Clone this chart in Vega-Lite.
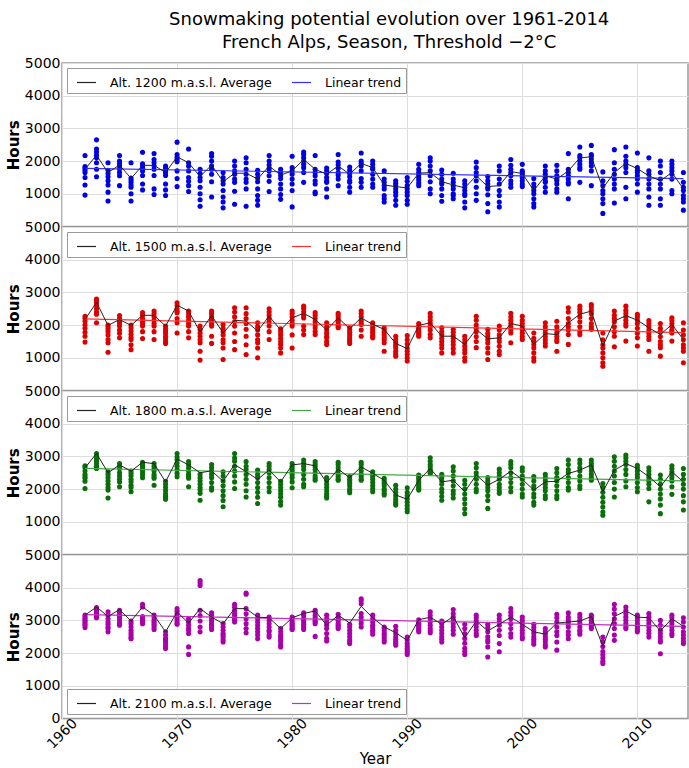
{
"$schema":"https://vega.github.io/schema/vega-lite/v6.json",
"autosize":{"type":"pad"},
"padding":{"left":5,"top":11,"right":0,"bottom":0},
"background":"white",
"title":{"text":["Snowmaking potential evolution over 1961-2014","French Alps, Season, Threshold −2°C"],"fontSize":18,"fontWeight":"normal","font":"DejaVu Sans","lineHeight":23,"offset":3,"anchor":"middle","dx":42,"color":"#000000"},
"datasets":{
"m1200":[{"yr":1962,"h":1750},{"yr":1963,"h":2180},{"yr":1964,"h":1650},{"yr":1965,"h":1880},{"yr":1966,"h":1470},{"yr":1967,"h":1870},{"yr":1968,"h":1870},{"yr":1969,"h":1650},{"yr":1970,"h":2130},{"yr":1971,"h":1950},{"yr":1972,"h":1530},{"yr":1973,"h":1880},{"yr":1974,"h":1370},{"yr":1975,"h":1630},{"yr":1976,"h":1630},{"yr":1977,"h":1450},{"yr":1978,"h":1850},{"yr":1979,"h":1570},{"yr":1980,"h":1700},{"yr":1981,"h":2050},{"yr":1982,"h":1750},{"yr":1983,"h":1600},{"yr":1984,"h":1850},{"yr":1985,"h":1600},{"yr":1986,"h":1930},{"yr":1987,"h":1800},{"yr":1988,"h":1270},{"yr":1989,"h":1220},{"yr":1990,"h":1180},{"yr":1991,"h":1630},{"yr":1992,"h":1650},{"yr":1993,"h":1370},{"yr":1994,"h":1270},{"yr":1995,"h":1180},{"yr":1996,"h":1550},{"yr":1997,"h":1220},{"yr":1998,"h":1250},{"yr":1999,"h":1680},{"yr":2000,"h":1620},{"yr":2001,"h":1100},{"yr":2002,"h":1550},{"yr":2003,"h":1450},{"yr":2004,"h":1700},{"yr":2005,"h":2100},{"yr":2006,"h":2130},{"yr":2007,"h":1170},{"yr":2008,"h":1650},{"yr":2009,"h":1930},{"yr":2010,"h":1770},{"yr":2011,"h":1550},{"yr":2012,"h":1400},{"yr":2013,"h":1650},{"yr":2014,"h":1150}],
"m1500":[{"yr":1962,"h":2170},{"yr":1963,"h":2700},{"yr":1964,"h":1990},{"yr":1965,"h":2170},{"yr":1966,"h":1990},{"yr":1967,"h":2300},{"yr":1968,"h":2300},{"yr":1969,"h":1970},{"yr":1970,"h":2610},{"yr":1971,"h":2430},{"yr":1972,"h":1790},{"yr":1973,"h":2290},{"yr":1974,"h":1760},{"yr":1975,"h":2150},{"yr":1976,"h":2120},{"yr":1977,"h":1820},{"yr":1978,"h":2270},{"yr":1979,"h":1850},{"yr":1980,"h":2220},{"yr":1981,"h":2360},{"yr":1982,"h":2170},{"yr":1983,"h":1850},{"yr":1984,"h":2220},{"yr":1985,"h":1890},{"yr":1986,"h":2220},{"yr":1987,"h":2020},{"yr":1988,"h":1870},{"yr":1989,"h":1440},{"yr":1990,"h":1280},{"yr":1991,"h":1990},{"yr":1992,"h":2070},{"yr":1993,"h":1660},{"yr":1994,"h":1660},{"yr":1995,"h":1410},{"yr":1996,"h":1870},{"yr":1997,"h":1580},{"yr":1998,"h":1610},{"yr":1999,"h":2050},{"yr":2000,"h":1970},{"yr":2001,"h":1410},{"yr":2002,"h":1740},{"yr":2003,"h":1710},{"yr":2004,"h":2070},{"yr":2005,"h":2330},{"yr":2006,"h":2430},{"yr":2007,"h":1360},{"yr":2008,"h":2120},{"yr":2009,"h":2290},{"yr":2010,"h":2150},{"yr":2011,"h":1920},{"yr":2012,"h":1710},{"yr":2013,"h":2020},{"yr":2014,"h":1560}],
"m1800":[{"yr":1962,"h":2650},{"yr":1963,"h":3090},{"yr":1964,"h":2500},{"yr":1965,"h":2740},{"yr":1966,"h":2550},{"yr":1967,"h":2820},{"yr":1968,"h":2780},{"yr":1969,"h":2220},{"yr":1970,"h":2920},{"yr":1971,"h":2740},{"yr":1972,"h":2500},{"yr":1973,"h":2560},{"yr":1974,"h":2240},{"yr":1975,"h":2750},{"yr":1976,"h":2530},{"yr":1977,"h":2300},{"yr":1978,"h":2580},{"yr":1979,"h":2220},{"yr":1980,"h":2740},{"yr":1981,"h":2780},{"yr":1982,"h":2710},{"yr":1983,"h":2200},{"yr":1984,"h":2610},{"yr":1985,"h":2350},{"yr":1986,"h":2680},{"yr":1987,"h":2480},{"yr":1988,"h":2270},{"yr":1989,"h":1820},{"yr":1990,"h":1690},{"yr":1991,"h":2270},{"yr":1992,"h":2630},{"yr":1993,"h":2220},{"yr":1994,"h":2270},{"yr":1995,"h":1920},{"yr":1996,"h":2430},{"yr":1997,"h":2120},{"yr":1998,"h":2300},{"yr":1999,"h":2550},{"yr":2000,"h":2300},{"yr":2001,"h":1970},{"yr":2002,"h":2220},{"yr":2003,"h":2240},{"yr":2004,"h":2480},{"yr":2005,"h":2580},{"yr":2006,"h":2740},{"yr":2007,"h":1920},{"yr":2008,"h":2580},{"yr":2009,"h":2780},{"yr":2010,"h":2630},{"yr":2011,"h":2380},{"yr":2012,"h":2070},{"yr":2013,"h":2530},{"yr":2014,"h":2220}],
"m2100":[{"yr":1962,"h":3160},{"yr":1963,"h":3410},{"yr":1964,"h":3120},{"yr":1965,"h":3330},{"yr":1966,"h":2980},{"yr":1967,"h":3410},{"yr":1968,"h":3160},{"yr":1969,"h":2650},{"yr":1970,"h":3260},{"yr":1971,"h":2920},{"yr":1972,"h":3360},{"yr":1973,"h":3100},{"yr":1974,"h":2900},{"yr":1975,"h":3360},{"yr":1976,"h":3360},{"yr":1977,"h":3100},{"yr":1978,"h":3080},{"yr":1979,"h":2750},{"yr":1980,"h":3080},{"yr":1981,"h":3210},{"yr":1982,"h":3290},{"yr":1983,"h":2850},{"yr":1984,"h":3160},{"yr":1985,"h":2920},{"yr":1986,"h":3430},{"yr":1987,"h":3080},{"yr":1988,"h":2800},{"yr":1989,"h":2620},{"yr":1990,"h":2390},{"yr":1991,"h":3020},{"yr":1992,"h":3100},{"yr":1993,"h":2880},{"yr":1994,"h":3120},{"yr":1995,"h":2470},{"yr":1996,"h":2980},{"yr":1997,"h":2680},{"yr":1998,"h":2880},{"yr":1999,"h":3100},{"yr":2000,"h":2880},{"yr":2001,"h":2650},{"yr":2002,"h":2580},{"yr":2003,"h":2920},{"yr":2004,"h":2950},{"yr":2005,"h":2980},{"yr":2006,"h":3120},{"yr":2007,"h":2210},{"yr":2008,"h":3120},{"yr":2009,"h":3290},{"yr":2010,"h":3100},{"yr":2011,"h":3080},{"yr":2012,"h":2680},{"yr":2013,"h":3050},{"yr":2014,"h":2820}],
"p1200":[
{"yr":1962,"h":2170},{"yr":1962,"h":1830},{"yr":1962,"h":1780},{"yr":1962,"h":1720},{"yr":1962,"h":1650},{"yr":1962,"h":1500},{"yr":1962,"h":1270},{"yr":1962,"h":960},
{"yr":1963,"h":2650},{"yr":1963,"h":2370},{"yr":1963,"h":2280},{"yr":1963,"h":2180},{"yr":1963,"h":2100},{"yr":1963,"h":1950},{"yr":1963,"h":1750},{"yr":1963,"h":1520},
{"yr":1964,"h":1950},{"yr":1964,"h":1720},{"yr":1964,"h":1620},{"yr":1964,"h":1520},{"yr":1964,"h":1400},{"yr":1964,"h":1270},{"yr":1964,"h":1050},{"yr":1964,"h":780},
{"yr":1965,"h":2170},{"yr":1965,"h":2000},{"yr":1965,"h":1920},{"yr":1965,"h":1850},{"yr":1965,"h":1760},{"yr":1965,"h":1650},{"yr":1965,"h":1550},{"yr":1965,"h":1250},
{"yr":1966,"h":1950},{"yr":1966,"h":1480},{"yr":1966,"h":1420},{"yr":1966,"h":1350},{"yr":1966,"h":1270},{"yr":1966,"h":1200},{"yr":1966,"h":1000},{"yr":1966,"h":780},
{"yr":1967,"h":2270},{"yr":1967,"h":1920},{"yr":1967,"h":1860},{"yr":1967,"h":1780},{"yr":1967,"h":1700},{"yr":1967,"h":1560},{"yr":1967,"h":1300},{"yr":1967,"h":1120},
{"yr":1968,"h":2230},{"yr":1968,"h":2050},{"yr":1968,"h":1950},{"yr":1968,"h":1850},{"yr":1968,"h":1750},{"yr":1968,"h":1560},{"yr":1968,"h":1150},{"yr":1968,"h":980},
{"yr":1969,"h":1850},{"yr":1969,"h":1780},{"yr":1969,"h":1700},{"yr":1969,"h":1640},{"yr":1969,"h":1560},{"yr":1969,"h":1300},{"yr":1969,"h":1120},{"yr":1969,"h":950},
{"yr":1970,"h":2580},{"yr":1970,"h":2200},{"yr":1970,"h":2120},{"yr":1970,"h":2050},{"yr":1970,"h":1980},{"yr":1970,"h":1700},{"yr":1970,"h":1470},{"yr":1970,"h":1220},
{"yr":1971,"h":2370},{"yr":1971,"h":1950},{"yr":1971,"h":1850},{"yr":1971,"h":1700},{"yr":1971,"h":1500},{"yr":1971,"h":1380},{"yr":1971,"h":1250},{"yr":1971,"h":1070},
{"yr":1972,"h":1750},{"yr":1972,"h":1620},{"yr":1972,"h":1500},{"yr":1972,"h":1400},{"yr":1972,"h":1200},{"yr":1972,"h":1000},{"yr":1972,"h":820},{"yr":1972,"h":620},
{"yr":1973,"h":2230},{"yr":1973,"h":2150},{"yr":1973,"h":2000},{"yr":1973,"h":1850},{"yr":1973,"h":1750},{"yr":1973,"h":1600},{"yr":1973,"h":1370},{"yr":1973,"h":900},
{"yr":1974,"h":1650},{"yr":1974,"h":1500},{"yr":1974,"h":1400},{"yr":1974,"h":1300},{"yr":1974,"h":1100},{"yr":1974,"h":900},{"yr":1974,"h":750},{"yr":1974,"h":570},
{"yr":1975,"h":2000},{"yr":1975,"h":1850},{"yr":1975,"h":1700},{"yr":1975,"h":1600},{"yr":1975,"h":1450},{"yr":1975,"h":1350},{"yr":1975,"h":1080},{"yr":1975,"h":680},
{"yr":1976,"h":2100},{"yr":1976,"h":1950},{"yr":1976,"h":1750},{"yr":1976,"h":1600},{"yr":1976,"h":1450},{"yr":1976,"h":1350},{"yr":1976,"h":1150},{"yr":1976,"h":620},
{"yr":1977,"h":1720},{"yr":1977,"h":1600},{"yr":1977,"h":1480},{"yr":1977,"h":1370},{"yr":1977,"h":1150},{"yr":1977,"h":950},{"yr":1977,"h":800},{"yr":1977,"h":650},
{"yr":1978,"h":2170},{"yr":1978,"h":2000},{"yr":1978,"h":1880},{"yr":1978,"h":1780},{"yr":1978,"h":1700},{"yr":1978,"h":1550},{"yr":1978,"h":1380},{"yr":1978,"h":1070},
{"yr":1979,"h":1750},{"yr":1979,"h":1650},{"yr":1979,"h":1560},{"yr":1979,"h":1470},{"yr":1979,"h":1300},{"yr":1979,"h":1150},{"yr":1979,"h":980},{"yr":1979,"h":830},
{"yr":1980,"h":2150},{"yr":1980,"h":1800},{"yr":1980,"h":1700},{"yr":1980,"h":1600},{"yr":1980,"h":1450},{"yr":1980,"h":1300},{"yr":1980,"h":1100},{"yr":1980,"h":600},
{"yr":1981,"h":2280},{"yr":1981,"h":2200},{"yr":1981,"h":2100},{"yr":1981,"h":2000},{"yr":1981,"h":1900},{"yr":1981,"h":1800},{"yr":1981,"h":1650},{"yr":1981,"h":1350},
{"yr":1982,"h":2170},{"yr":1982,"h":1750},{"yr":1982,"h":1650},{"yr":1982,"h":1550},{"yr":1982,"h":1400},{"yr":1982,"h":1300},{"yr":1982,"h":1050},{"yr":1982,"h":1000},
{"yr":1983,"h":1790},{"yr":1983,"h":1700},{"yr":1983,"h":1620},{"yr":1983,"h":1500},{"yr":1983,"h":1400},{"yr":1983,"h":1350},{"yr":1983,"h":1150},{"yr":1983,"h":900},
{"yr":1984,"h":2200},{"yr":1984,"h":1970},{"yr":1984,"h":1880},{"yr":1984,"h":1780},{"yr":1984,"h":1650},{"yr":1984,"h":1570},{"yr":1984,"h":1450},{"yr":1984,"h":1250},
{"yr":1985,"h":1820},{"yr":1985,"h":1720},{"yr":1985,"h":1620},{"yr":1985,"h":1520},{"yr":1985,"h":1400},{"yr":1985,"h":1350},{"yr":1985,"h":1200},{"yr":1985,"h":1050},
{"yr":1986,"h":2250},{"yr":1986,"h":2000},{"yr":1986,"h":1930},{"yr":1986,"h":1850},{"yr":1986,"h":1700},{"yr":1986,"h":1470},{"yr":1986,"h":1350},{"yr":1986,"h":1200},
{"yr":1987,"h":2000},{"yr":1987,"h":1900},{"yr":1987,"h":1800},{"yr":1987,"h":1750},{"yr":1987,"h":1600},{"yr":1987,"h":1450},{"yr":1987,"h":1300},{"yr":1987,"h":1200},
{"yr":1988,"h":1700},{"yr":1988,"h":1450},{"yr":1988,"h":1350},{"yr":1988,"h":1250},{"yr":1988,"h":1150},{"yr":1988,"h":950},{"yr":1988,"h":850},{"yr":1988,"h":750},
{"yr":1989,"h":1400},{"yr":1989,"h":1320},{"yr":1989,"h":1250},{"yr":1989,"h":1150},{"yr":1989,"h":1050},{"yr":1989,"h":950},{"yr":1989,"h":800},{"yr":1989,"h":650},
{"yr":1990,"h":1500},{"yr":1990,"h":1380},{"yr":1990,"h":1250},{"yr":1990,"h":1150},{"yr":1990,"h":1050},{"yr":1990,"h":950},{"yr":1990,"h":800},{"yr":1990,"h":680},
{"yr":1991,"h":1900},{"yr":1991,"h":1750},{"yr":1991,"h":1650},{"yr":1991,"h":1580},{"yr":1991,"h":1500},{"yr":1991,"h":1420},{"yr":1991,"h":1330},{"yr":1991,"h":1250},
{"yr":1992,"h":2100},{"yr":1992,"h":2000},{"yr":1992,"h":1850},{"yr":1992,"h":1700},{"yr":1992,"h":1550},{"yr":1992,"h":1370},{"yr":1992,"h":1150},{"yr":1992,"h":1000},
{"yr":1993,"h":1730},{"yr":1993,"h":1600},{"yr":1993,"h":1450},{"yr":1993,"h":1350},{"yr":1993,"h":1300},{"yr":1993,"h":1150},{"yr":1993,"h":950},{"yr":1993,"h":770},
{"yr":1994,"h":1630},{"yr":1994,"h":1450},{"yr":1994,"h":1350},{"yr":1994,"h":1250},{"yr":1994,"h":1150},{"yr":1994,"h":1000},{"yr":1994,"h":950},{"yr":1994,"h":850},
{"yr":1995,"h":1400},{"yr":1995,"h":1300},{"yr":1995,"h":1200},{"yr":1995,"h":1100},{"yr":1995,"h":1000},{"yr":1995,"h":950},{"yr":1995,"h":750},{"yr":1995,"h":570},
{"yr":1996,"h":1970},{"yr":1996,"h":1800},{"yr":1996,"h":1650},{"yr":1996,"h":1550},{"yr":1996,"h":1400},{"yr":1996,"h":1200},{"yr":1996,"h":1000},{"yr":1996,"h":800},
{"yr":1997,"h":1530},{"yr":1997,"h":1400},{"yr":1997,"h":1300},{"yr":1997,"h":1200},{"yr":1997,"h":1150},{"yr":1997,"h":970},{"yr":1997,"h":700},{"yr":1997,"h":450},
{"yr":1998,"h":1850},{"yr":1998,"h":1700},{"yr":1998,"h":1450},{"yr":1998,"h":1300},{"yr":1998,"h":1100},{"yr":1998,"h":950},{"yr":1998,"h":750},{"yr":1998,"h":600},
{"yr":1999,"h":2050},{"yr":1999,"h":1870},{"yr":1999,"h":1750},{"yr":1999,"h":1650},{"yr":1999,"h":1550},{"yr":1999,"h":1400},{"yr":1999,"h":1300},{"yr":1999,"h":1200},
{"yr":2000,"h":1900},{"yr":2000,"h":1700},{"yr":2000,"h":1650},{"yr":2000,"h":1580},{"yr":2000,"h":1500},{"yr":2000,"h":1400},{"yr":2000,"h":1300},{"yr":2000,"h":1220},
{"yr":2001,"h":1470},{"yr":2001,"h":1300},{"yr":2001,"h":1200},{"yr":2001,"h":1100},{"yr":2001,"h":1000},{"yr":2001,"h":850},{"yr":2001,"h":700},{"yr":2001,"h":600},
{"yr":2002,"h":1850},{"yr":2002,"h":1700},{"yr":2002,"h":1600},{"yr":2002,"h":1500},{"yr":2002,"h":1400},{"yr":2002,"h":1350},{"yr":2002,"h":1200},{"yr":2002,"h":1050},
{"yr":2003,"h":1870},{"yr":2003,"h":1700},{"yr":2003,"h":1550},{"yr":2003,"h":1450},{"yr":2003,"h":1400},{"yr":2003,"h":1300},{"yr":2003,"h":1150},{"yr":2003,"h":1050},
{"yr":2004,"h":2230},{"yr":2004,"h":1750},{"yr":2004,"h":1650},{"yr":2004,"h":1550},{"yr":2004,"h":1450},{"yr":2004,"h":1350},{"yr":2004,"h":1300},{"yr":2004,"h":850},
{"yr":2005,"h":2430},{"yr":2005,"h":2170},{"yr":2005,"h":2100},{"yr":2005,"h":2000},{"yr":2005,"h":1900},{"yr":2005,"h":1800},{"yr":2005,"h":1750},{"yr":2005,"h":1350},
{"yr":2006,"h":2480},{"yr":2006,"h":2200},{"yr":2006,"h":2150},{"yr":2006,"h":2050},{"yr":2006,"h":1950},{"yr":2006,"h":1850},{"yr":2006,"h":1700},{"yr":2006,"h":1250},
{"yr":2007,"h":1670},{"yr":2007,"h":1400},{"yr":2007,"h":1250},{"yr":2007,"h":1100},{"yr":2007,"h":1000},{"yr":2007,"h":850},{"yr":2007,"h":700},{"yr":2007,"h":400},
{"yr":2008,"h":2350},{"yr":2008,"h":1950},{"yr":2008,"h":1750},{"yr":2008,"h":1600},{"yr":2008,"h":1450},{"yr":2008,"h":1300},{"yr":2008,"h":1150},{"yr":2008,"h":720},
{"yr":2009,"h":2430},{"yr":2009,"h":2150},{"yr":2009,"h":2000},{"yr":2009,"h":1900},{"yr":2009,"h":1800},{"yr":2009,"h":1650},{"yr":2009,"h":1200},{"yr":2009,"h":850},
{"yr":2010,"h":2250},{"yr":2010,"h":1800},{"yr":2010,"h":1720},{"yr":2010,"h":1650},{"yr":2010,"h":1550},{"yr":2010,"h":1450},{"yr":2010,"h":1300},{"yr":2010,"h":1050},
{"yr":2011,"h":2100},{"yr":2011,"h":1700},{"yr":2011,"h":1600},{"yr":2011,"h":1450},{"yr":2011,"h":1300},{"yr":2011,"h":1150},{"yr":2011,"h":900},{"yr":2011,"h":650},
{"yr":2012,"h":2000},{"yr":2012,"h":1850},{"yr":2012,"h":1650},{"yr":2012,"h":1450},{"yr":2012,"h":1300},{"yr":2012,"h":1150},{"yr":2012,"h":850},{"yr":2012,"h":650},
{"yr":2013,"h":2000},{"yr":2013,"h":1900},{"yr":2013,"h":1800},{"yr":2013,"h":1700},{"yr":2013,"h":1600},{"yr":2013,"h":1450},{"yr":2013,"h":1100},{"yr":2013,"h":1000},
{"yr":2014,"h":1650},{"yr":2014,"h":1350},{"yr":2014,"h":1200},{"yr":2014,"h":1100},{"yr":2014,"h":950},{"yr":2014,"h":850},{"yr":2014,"h":750},{"yr":2014,"h":500}],
"p1500":[
{"yr":1962,"h":2270},{"yr":1962,"h":2200},{"yr":1962,"h":2120},{"yr":1962,"h":2000},{"yr":1962,"h":1900},{"yr":1962,"h":1780},{"yr":1962,"h":1660},{"yr":1962,"h":1480},
{"yr":1963,"h":2800},{"yr":1963,"h":2750},{"yr":1963,"h":2680},{"yr":1963,"h":2600},{"yr":1963,"h":2500},{"yr":1963,"h":2400},{"yr":1963,"h":2330},{"yr":1963,"h":2070},
{"yr":1964,"h":2000},{"yr":1964,"h":1950},{"yr":1964,"h":1880},{"yr":1964,"h":1800},{"yr":1964,"h":1700},{"yr":1964,"h":1560},{"yr":1964,"h":1460},{"yr":1964,"h":1170},
{"yr":1965,"h":2290},{"yr":1965,"h":2200},{"yr":1965,"h":2120},{"yr":1965,"h":2050},{"yr":1965,"h":1970},{"yr":1965,"h":1850},{"yr":1965,"h":1750},{"yr":1965,"h":1610},
{"yr":1966,"h":2000},{"yr":1966,"h":1920},{"yr":1966,"h":1820},{"yr":1966,"h":1720},{"yr":1966,"h":1620},{"yr":1966,"h":1560},{"yr":1966,"h":1400},{"yr":1966,"h":1250},
{"yr":1967,"h":2380},{"yr":1967,"h":2300},{"yr":1967,"h":2200},{"yr":1967,"h":2120},{"yr":1967,"h":2050},{"yr":1967,"h":1970},{"yr":1967,"h":1800},{"yr":1967,"h":1590},
{"yr":1968,"h":2430},{"yr":1968,"h":2350},{"yr":1968,"h":2250},{"yr":1968,"h":2150},{"yr":1968,"h":2050},{"yr":1968,"h":1970},{"yr":1968,"h":1800},{"yr":1968,"h":1560},
{"yr":1969,"h":1970},{"yr":1969,"h":1900},{"yr":1969,"h":1820},{"yr":1969,"h":1750},{"yr":1969,"h":1660},{"yr":1969,"h":1580},{"yr":1969,"h":1500},{"yr":1969,"h":1440},
{"yr":1970,"h":2680},{"yr":1970,"h":2600},{"yr":1970,"h":2500},{"yr":1970,"h":2420},{"yr":1970,"h":2380},{"yr":1970,"h":2200},{"yr":1970,"h":2070},{"yr":1970,"h":1760},
{"yr":1971,"h":2430},{"yr":1971,"h":2350},{"yr":1971,"h":2250},{"yr":1971,"h":2150},{"yr":1971,"h":2050},{"yr":1971,"h":1970},{"yr":1971,"h":1800},{"yr":1971,"h":1610},
{"yr":1972,"h":1970},{"yr":1972,"h":1850},{"yr":1972,"h":1750},{"yr":1972,"h":1650},{"yr":1972,"h":1550},{"yr":1972,"h":1460},{"yr":1972,"h":1200},{"yr":1972,"h":930},
{"yr":1973,"h":2430},{"yr":1973,"h":2350},{"yr":1973,"h":2250},{"yr":1973,"h":2150},{"yr":1973,"h":2050},{"yr":1973,"h":1970},{"yr":1973,"h":1660},{"yr":1973,"h":1440},
{"yr":1974,"h":2020},{"yr":1974,"h":1900},{"yr":1974,"h":1800},{"yr":1974,"h":1700},{"yr":1974,"h":1550},{"yr":1974,"h":1460},{"yr":1974,"h":1300},{"yr":1974,"h":950},
{"yr":1975,"h":2530},{"yr":1975,"h":2400},{"yr":1975,"h":2250},{"yr":1975,"h":2100},{"yr":1975,"h":1970},{"yr":1975,"h":1760},{"yr":1975,"h":1500},{"yr":1975,"h":1250},
{"yr":1976,"h":2530},{"yr":1976,"h":2350},{"yr":1976,"h":2200},{"yr":1976,"h":2050},{"yr":1976,"h":1870},{"yr":1976,"h":1660},{"yr":1976,"h":1400},{"yr":1976,"h":1100},
{"yr":1977,"h":2070},{"yr":1977,"h":1950},{"yr":1977,"h":1850},{"yr":1977,"h":1700},{"yr":1977,"h":1550},{"yr":1977,"h":1460},{"yr":1977,"h":1300},{"yr":1977,"h":1000},
{"yr":1978,"h":2500},{"yr":1978,"h":2400},{"yr":1978,"h":2300},{"yr":1978,"h":2200},{"yr":1978,"h":2100},{"yr":1978,"h":1970},{"yr":1978,"h":1800},{"yr":1978,"h":1560},
{"yr":1979,"h":1890},{"yr":1979,"h":1800},{"yr":1979,"h":1700},{"yr":1979,"h":1600},{"yr":1979,"h":1500},{"yr":1979,"h":1410},{"yr":1979,"h":1300},{"yr":1979,"h":1150},
{"yr":1980,"h":2430},{"yr":1980,"h":2350},{"yr":1980,"h":2250},{"yr":1980,"h":2150},{"yr":1980,"h":2050},{"yr":1980,"h":1970},{"yr":1980,"h":1700},{"yr":1980,"h":1300},
{"yr":1981,"h":2580},{"yr":1981,"h":2500},{"yr":1981,"h":2400},{"yr":1981,"h":2300},{"yr":1981,"h":2220},{"yr":1981,"h":1970},{"yr":1981,"h":1850},{"yr":1981,"h":1710},
{"yr":1982,"h":2380},{"yr":1982,"h":2300},{"yr":1982,"h":2200},{"yr":1982,"h":2100},{"yr":1982,"h":2000},{"yr":1982,"h":1920},{"yr":1982,"h":1800},{"yr":1982,"h":1710},
{"yr":1983,"h":2070},{"yr":1983,"h":1950},{"yr":1983,"h":1850},{"yr":1983,"h":1750},{"yr":1983,"h":1650},{"yr":1983,"h":1610},{"yr":1983,"h":1500},{"yr":1983,"h":1410},
{"yr":1984,"h":2360},{"yr":1984,"h":2300},{"yr":1984,"h":2220},{"yr":1984,"h":2150},{"yr":1984,"h":2080},{"yr":1984,"h":2000},{"yr":1984,"h":1950},{"yr":1984,"h":1920},
{"yr":1985,"h":1920},{"yr":1985,"h":1850},{"yr":1985,"h":1780},{"yr":1985,"h":1700},{"yr":1985,"h":1620},{"yr":1985,"h":1560},{"yr":1985,"h":1500},{"yr":1985,"h":1440},
{"yr":1986,"h":2430},{"yr":1986,"h":2350},{"yr":1986,"h":2250},{"yr":1986,"h":2150},{"yr":1986,"h":2080},{"yr":1986,"h":2020},{"yr":1986,"h":1850},{"yr":1986,"h":1660},
{"yr":1987,"h":2070},{"yr":1987,"h":2000},{"yr":1987,"h":1920},{"yr":1987,"h":1850},{"yr":1987,"h":1780},{"yr":1987,"h":1700},{"yr":1987,"h":1650},{"yr":1987,"h":1610},
{"yr":1988,"h":1920},{"yr":1988,"h":1850},{"yr":1988,"h":1780},{"yr":1988,"h":1700},{"yr":1988,"h":1620},{"yr":1988,"h":1550},{"yr":1988,"h":1460},{"yr":1988,"h":1200},
{"yr":1989,"h":1660},{"yr":1989,"h":1550},{"yr":1989,"h":1450},{"yr":1989,"h":1380},{"yr":1989,"h":1300},{"yr":1989,"h":1200},{"yr":1989,"h":1120},{"yr":1989,"h":1050},
{"yr":1990,"h":1680},{"yr":1990,"h":1550},{"yr":1990,"h":1420},{"yr":1990,"h":1300},{"yr":1990,"h":1200},{"yr":1990,"h":1100},{"yr":1990,"h":1000},{"yr":1990,"h":900},
{"yr":1991,"h":2050},{"yr":1991,"h":1980},{"yr":1991,"h":1920},{"yr":1991,"h":1850},{"yr":1991,"h":1800},{"yr":1991,"h":1750},{"yr":1991,"h":1700},{"yr":1991,"h":1660},
{"yr":1992,"h":2360},{"yr":1992,"h":2250},{"yr":1992,"h":2150},{"yr":1992,"h":2050},{"yr":1992,"h":1950},{"yr":1992,"h":1850},{"yr":1992,"h":1720},{"yr":1992,"h":1610},
{"yr":1993,"h":1920},{"yr":1993,"h":1800},{"yr":1993,"h":1700},{"yr":1993,"h":1600},{"yr":1993,"h":1500},{"yr":1993,"h":1400},{"yr":1993,"h":1300},{"yr":1993,"h":1150},
{"yr":1994,"h":1870},{"yr":1994,"h":1780},{"yr":1994,"h":1680},{"yr":1994,"h":1600},{"yr":1994,"h":1500},{"yr":1994,"h":1400},{"yr":1994,"h":1280},{"yr":1994,"h":1150},
{"yr":1995,"h":1660},{"yr":1995,"h":1550},{"yr":1995,"h":1450},{"yr":1995,"h":1350},{"yr":1995,"h":1250},{"yr":1995,"h":1150},{"yr":1995,"h":1000},{"yr":1995,"h":900},
{"yr":1996,"h":2270},{"yr":1996,"h":2150},{"yr":1996,"h":2000},{"yr":1996,"h":1900},{"yr":1996,"h":1800},{"yr":1996,"h":1650},{"yr":1996,"h":1500},{"yr":1996,"h":1310},
{"yr":1997,"h":1870},{"yr":1997,"h":1750},{"yr":1997,"h":1650},{"yr":1997,"h":1550},{"yr":1997,"h":1450},{"yr":1997,"h":1300},{"yr":1997,"h":1150},{"yr":1997,"h":950},
{"yr":1998,"h":1970},{"yr":1998,"h":1850},{"yr":1998,"h":1700},{"yr":1998,"h":1600},{"yr":1998,"h":1500},{"yr":1998,"h":1350},{"yr":1998,"h":1200},{"yr":1998,"h":1100},
{"yr":1999,"h":2360},{"yr":1999,"h":2250},{"yr":1999,"h":2150},{"yr":1999,"h":2050},{"yr":1999,"h":1950},{"yr":1999,"h":1850},{"yr":1999,"h":1760},{"yr":1999,"h":1460},
{"yr":2000,"h":2270},{"yr":2000,"h":2150},{"yr":2000,"h":2050},{"yr":2000,"h":1950},{"yr":2000,"h":1850},{"yr":2000,"h":1750},{"yr":2000,"h":1650},{"yr":2000,"h":1560},
{"yr":2001,"h":1760},{"yr":2001,"h":1600},{"yr":2001,"h":1500},{"yr":2001,"h":1400},{"yr":2001,"h":1300},{"yr":2001,"h":1150},{"yr":2001,"h":1000},{"yr":2001,"h":900},
{"yr":2002,"h":2070},{"yr":2002,"h":1950},{"yr":2002,"h":1850},{"yr":2002,"h":1750},{"yr":2002,"h":1650},{"yr":2002,"h":1550},{"yr":2002,"h":1450},{"yr":2002,"h":1360},
{"yr":2003,"h":2120},{"yr":2003,"h":1950},{"yr":2003,"h":1850},{"yr":2003,"h":1750},{"yr":2003,"h":1650},{"yr":2003,"h":1550},{"yr":2003,"h":1500},{"yr":2003,"h":1200},
{"yr":2004,"h":2530},{"yr":2004,"h":2400},{"yr":2004,"h":2200},{"yr":2004,"h":2050},{"yr":2004,"h":1950},{"yr":2004,"h":1850},{"yr":2004,"h":1710},{"yr":2004,"h":1410},
{"yr":2005,"h":2580},{"yr":2005,"h":2480},{"yr":2005,"h":2380},{"yr":2005,"h":2250},{"yr":2005,"h":2100},{"yr":2005,"h":1950},{"yr":2005,"h":1800},{"yr":2005,"h":1710},
{"yr":2006,"h":2630},{"yr":2006,"h":2550},{"yr":2006,"h":2450},{"yr":2006,"h":2350},{"yr":2006,"h":2200},{"yr":2006,"h":2050},{"yr":2006,"h":1950},{"yr":2006,"h":1870},
{"yr":2007,"h":1760},{"yr":2007,"h":1550},{"yr":2007,"h":1400},{"yr":2007,"h":1300},{"yr":2007,"h":1150},{"yr":2007,"h":1000},{"yr":2007,"h":850},{"yr":2007,"h":740},
{"yr":2008,"h":2430},{"yr":2008,"h":2300},{"yr":2008,"h":2200},{"yr":2008,"h":2100},{"yr":2008,"h":1950},{"yr":2008,"h":1800},{"yr":2008,"h":1660},{"yr":2008,"h":1340},
{"yr":2009,"h":2580},{"yr":2009,"h":2450},{"yr":2009,"h":2350},{"yr":2009,"h":2250},{"yr":2009,"h":2150},{"yr":2009,"h":2050},{"yr":2009,"h":1970},{"yr":2009,"h":1510},
{"yr":2010,"h":2330},{"yr":2010,"h":2250},{"yr":2010,"h":2150},{"yr":2010,"h":2050},{"yr":2010,"h":1900},{"yr":2010,"h":1750},{"yr":2010,"h":1610},{"yr":2010,"h":1360},
{"yr":2011,"h":2140},{"yr":2011,"h":2050},{"yr":2011,"h":1950},{"yr":2011,"h":1850},{"yr":2011,"h":1750},{"yr":2011,"h":1650},{"yr":2011,"h":1560},{"yr":2011,"h":1200},
{"yr":2012,"h":2050},{"yr":2012,"h":1900},{"yr":2012,"h":1800},{"yr":2012,"h":1650},{"yr":2012,"h":1500},{"yr":2012,"h":1400},{"yr":2012,"h":1310},{"yr":2012,"h":1050},
{"yr":2013,"h":2220},{"yr":2013,"h":2150},{"yr":2013,"h":2050},{"yr":2013,"h":1950},{"yr":2013,"h":1850},{"yr":2013,"h":1800},{"yr":2013,"h":1760},{"yr":2013,"h":1510},
{"yr":2014,"h":2070},{"yr":2014,"h":1850},{"yr":2014,"h":1700},{"yr":2014,"h":1550},{"yr":2014,"h":1400},{"yr":2014,"h":1300},{"yr":2014,"h":1200},{"yr":2014,"h":850}],
"p1800":[
{"yr":1962,"h":2710},{"yr":1962,"h":2650},{"yr":1962,"h":2550},{"yr":1962,"h":2450},{"yr":1962,"h":2380},{"yr":1962,"h":2330},{"yr":1962,"h":2240},{"yr":1962,"h":2020},
{"yr":1963,"h":3090},{"yr":1963,"h":3000},{"yr":1963,"h":2920},{"yr":1963,"h":2850},{"yr":1963,"h":2780},{"yr":1963,"h":2700},{"yr":1963,"h":2650},{"yr":1963,"h":2630},
{"yr":1964,"h":2530},{"yr":1964,"h":2450},{"yr":1964,"h":2350},{"yr":1964,"h":2250},{"yr":1964,"h":2150},{"yr":1964,"h":2050},{"yr":1964,"h":1970},{"yr":1964,"h":1730},
{"yr":1965,"h":2780},{"yr":1965,"h":2700},{"yr":1965,"h":2620},{"yr":1965,"h":2500},{"yr":1965,"h":2400},{"yr":1965,"h":2300},{"yr":1965,"h":2220},{"yr":1965,"h":2070},
{"yr":1966,"h":2550},{"yr":1966,"h":2480},{"yr":1966,"h":2400},{"yr":1966,"h":2300},{"yr":1966,"h":2220},{"yr":1966,"h":2120},{"yr":1966,"h":2050},{"yr":1966,"h":1920},
{"yr":1967,"h":2820},{"yr":1967,"h":2760},{"yr":1967,"h":2700},{"yr":1967,"h":2650},{"yr":1967,"h":2580},{"yr":1967,"h":2530},{"yr":1967,"h":2450},{"yr":1967,"h":2350},
{"yr":1968,"h":2780},{"yr":1968,"h":2700},{"yr":1968,"h":2620},{"yr":1968,"h":2550},{"yr":1968,"h":2450},{"yr":1968,"h":2380},{"yr":1968,"h":2330},{"yr":1968,"h":2120},
{"yr":1969,"h":2240},{"yr":1969,"h":2150},{"yr":1969,"h":2050},{"yr":1969,"h":1950},{"yr":1969,"h":1850},{"yr":1969,"h":1780},{"yr":1969,"h":1720},{"yr":1969,"h":1690},
{"yr":1970,"h":3090},{"yr":1970,"h":2980},{"yr":1970,"h":2900},{"yr":1970,"h":2800},{"yr":1970,"h":2700},{"yr":1970,"h":2600},{"yr":1970,"h":2480},{"yr":1970,"h":2380},
{"yr":1971,"h":2840},{"yr":1971,"h":2750},{"yr":1971,"h":2650},{"yr":1971,"h":2550},{"yr":1971,"h":2450},{"yr":1971,"h":2380},{"yr":1971,"h":2330},{"yr":1971,"h":2070},
{"yr":1972,"h":2450},{"yr":1972,"h":2350},{"yr":1972,"h":2250},{"yr":1972,"h":2150},{"yr":1972,"h":2050},{"yr":1972,"h":1970},{"yr":1972,"h":1870},{"yr":1972,"h":1660},
{"yr":1973,"h":2750},{"yr":1973,"h":2650},{"yr":1973,"h":2550},{"yr":1973,"h":2450},{"yr":1973,"h":2350},{"yr":1973,"h":2200},{"yr":1973,"h":2050},{"yr":1973,"h":1970},
{"yr":1974,"h":2530},{"yr":1974,"h":2400},{"yr":1974,"h":2250},{"yr":1974,"h":2100},{"yr":1974,"h":1950},{"yr":1974,"h":1800},{"yr":1974,"h":1650},{"yr":1974,"h":1460},
{"yr":1975,"h":3090},{"yr":1975,"h":2950},{"yr":1975,"h":2850},{"yr":1975,"h":2700},{"yr":1975,"h":2550},{"yr":1975,"h":2400},{"yr":1975,"h":2220},{"yr":1975,"h":2020},
{"yr":1976,"h":2840},{"yr":1976,"h":2700},{"yr":1976,"h":2600},{"yr":1976,"h":2450},{"yr":1976,"h":2300},{"yr":1976,"h":2150},{"yr":1976,"h":1950},{"yr":1976,"h":1760},
{"yr":1977,"h":2580},{"yr":1977,"h":2450},{"yr":1977,"h":2350},{"yr":1977,"h":2200},{"yr":1977,"h":2050},{"yr":1977,"h":1900},{"yr":1977,"h":1750},{"yr":1977,"h":1560},
{"yr":1978,"h":2780},{"yr":1978,"h":2700},{"yr":1978,"h":2600},{"yr":1978,"h":2500},{"yr":1978,"h":2350},{"yr":1978,"h":2200},{"yr":1978,"h":2050},{"yr":1978,"h":1920},
{"yr":1979,"h":2240},{"yr":1979,"h":2150},{"yr":1979,"h":2050},{"yr":1979,"h":1950},{"yr":1979,"h":1850},{"yr":1979,"h":1750},{"yr":1979,"h":1620},{"yr":1979,"h":1510},
{"yr":1980,"h":2780},{"yr":1980,"h":2700},{"yr":1980,"h":2620},{"yr":1980,"h":2550},{"yr":1980,"h":2450},{"yr":1980,"h":2350},{"yr":1980,"h":2220},{"yr":1980,"h":2040},
{"yr":1981,"h":2890},{"yr":1981,"h":2800},{"yr":1981,"h":2700},{"yr":1981,"h":2600},{"yr":1981,"h":2450},{"yr":1981,"h":2300},{"yr":1981,"h":2150},{"yr":1981,"h":2070},
{"yr":1982,"h":2840},{"yr":1982,"h":2750},{"yr":1982,"h":2680},{"yr":1982,"h":2600},{"yr":1982,"h":2500},{"yr":1982,"h":2400},{"yr":1982,"h":2330},{"yr":1982,"h":2270},
{"yr":1983,"h":2350},{"yr":1983,"h":2250},{"yr":1983,"h":2150},{"yr":1983,"h":2050},{"yr":1983,"h":1950},{"yr":1983,"h":1850},{"yr":1983,"h":1780},{"yr":1983,"h":1730},
{"yr":1984,"h":2820},{"yr":1984,"h":2750},{"yr":1984,"h":2650},{"yr":1984,"h":2550},{"yr":1984,"h":2450},{"yr":1984,"h":2380},{"yr":1984,"h":2300},{"yr":1984,"h":2270},
{"yr":1985,"h":2380},{"yr":1985,"h":2300},{"yr":1985,"h":2250},{"yr":1985,"h":2180},{"yr":1985,"h":2100},{"yr":1985,"h":2000},{"yr":1985,"h":1950},{"yr":1985,"h":1890},
{"yr":1986,"h":2820},{"yr":1986,"h":2750},{"yr":1986,"h":2650},{"yr":1986,"h":2550},{"yr":1986,"h":2450},{"yr":1986,"h":2380},{"yr":1986,"h":2300},{"yr":1986,"h":2270},
{"yr":1987,"h":2530},{"yr":1987,"h":2450},{"yr":1987,"h":2380},{"yr":1987,"h":2300},{"yr":1987,"h":2200},{"yr":1987,"h":2100},{"yr":1987,"h":2000},{"yr":1987,"h":1920},
{"yr":1988,"h":2330},{"yr":1988,"h":2250},{"yr":1988,"h":2180},{"yr":1988,"h":2100},{"yr":1988,"h":2000},{"yr":1988,"h":1950},{"yr":1988,"h":1870},{"yr":1988,"h":1820},
{"yr":1989,"h":2120},{"yr":1989,"h":2000},{"yr":1989,"h":1900},{"yr":1989,"h":1800},{"yr":1989,"h":1700},{"yr":1989,"h":1620},{"yr":1989,"h":1550},{"yr":1989,"h":1510},
{"yr":1990,"h":2040},{"yr":1990,"h":1900},{"yr":1990,"h":1800},{"yr":1990,"h":1700},{"yr":1990,"h":1600},{"yr":1990,"h":1500},{"yr":1990,"h":1400},{"yr":1990,"h":1310},
{"yr":1991,"h":2430},{"yr":1991,"h":2350},{"yr":1991,"h":2280},{"yr":1991,"h":2200},{"yr":1991,"h":2130},{"yr":1991,"h":2070},{"yr":1991,"h":2020},{"yr":1991,"h":1970},
{"yr":1992,"h":2960},{"yr":1992,"h":2850},{"yr":1992,"h":2750},{"yr":1992,"h":2680},{"yr":1992,"h":2600},{"yr":1992,"h":2550},{"yr":1992,"h":2500},{"yr":1992,"h":2480},
{"yr":1993,"h":2450},{"yr":1993,"h":2350},{"yr":1993,"h":2250},{"yr":1993,"h":2150},{"yr":1993,"h":2000},{"yr":1993,"h":1900},{"yr":1993,"h":1780},{"yr":1993,"h":1660},
{"yr":1994,"h":2680},{"yr":1994,"h":2550},{"yr":1994,"h":2400},{"yr":1994,"h":2250},{"yr":1994,"h":2100},{"yr":1994,"h":1950},{"yr":1994,"h":1850},{"yr":1994,"h":1730},
{"yr":1995,"h":2270},{"yr":1995,"h":2150},{"yr":1995,"h":2000},{"yr":1995,"h":1850},{"yr":1995,"h":1700},{"yr":1995,"h":1550},{"yr":1995,"h":1400},{"yr":1995,"h":1250},
{"yr":1996,"h":2780},{"yr":1996,"h":2650},{"yr":1996,"h":2500},{"yr":1996,"h":2400},{"yr":1996,"h":2300},{"yr":1996,"h":2150},{"yr":1996,"h":2000},{"yr":1996,"h":1920},
{"yr":1997,"h":2350},{"yr":1997,"h":2250},{"yr":1997,"h":2150},{"yr":1997,"h":2050},{"yr":1997,"h":1950},{"yr":1997,"h":1800},{"yr":1997,"h":1650},{"yr":1997,"h":1410},
{"yr":1998,"h":2610},{"yr":1998,"h":2500},{"yr":1998,"h":2400},{"yr":1998,"h":2300},{"yr":1998,"h":2150},{"yr":1998,"h":2050},{"yr":1998,"h":1950},{"yr":1998,"h":1870},
{"yr":1999,"h":2840},{"yr":1999,"h":2750},{"yr":1999,"h":2650},{"yr":1999,"h":2500},{"yr":1999,"h":2350},{"yr":1999,"h":2200},{"yr":1999,"h":2050},{"yr":1999,"h":1920},
{"yr":2000,"h":2650},{"yr":2000,"h":2550},{"yr":2000,"h":2400},{"yr":2000,"h":2300},{"yr":2000,"h":2150},{"yr":2000,"h":2000},{"yr":2000,"h":1850},{"yr":2000,"h":1760},
{"yr":2001,"h":2380},{"yr":2001,"h":2250},{"yr":2001,"h":2100},{"yr":2001,"h":2000},{"yr":2001,"h":1850},{"yr":2001,"h":1750},{"yr":2001,"h":1600},{"yr":2001,"h":1510},
{"yr":2002,"h":2450},{"yr":2002,"h":2350},{"yr":2002,"h":2250},{"yr":2002,"h":2150},{"yr":2002,"h":2050},{"yr":2002,"h":1950},{"yr":2002,"h":1800},{"yr":2002,"h":1710},
{"yr":2003,"h":2630},{"yr":2003,"h":2500},{"yr":2003,"h":2350},{"yr":2003,"h":2250},{"yr":2003,"h":2100},{"yr":2003,"h":1950},{"yr":2003,"h":1800},{"yr":2003,"h":1710},
{"yr":2004,"h":2890},{"yr":2004,"h":2750},{"yr":2004,"h":2600},{"yr":2004,"h":2500},{"yr":2004,"h":2350},{"yr":2004,"h":2200},{"yr":2004,"h":2050},{"yr":2004,"h":1970},
{"yr":2005,"h":2890},{"yr":2005,"h":2780},{"yr":2005,"h":2650},{"yr":2005,"h":2550},{"yr":2005,"h":2400},{"yr":2005,"h":2250},{"yr":2005,"h":2100},{"yr":2005,"h":2020},
{"yr":2006,"h":2890},{"yr":2006,"h":2800},{"yr":2006,"h":2720},{"yr":2006,"h":2650},{"yr":2006,"h":2550},{"yr":2006,"h":2450},{"yr":2006,"h":2350},{"yr":2006,"h":2270},
{"yr":2007,"h":2170},{"yr":2007,"h":2050},{"yr":2007,"h":1900},{"yr":2007,"h":1750},{"yr":2007,"h":1600},{"yr":2007,"h":1450},{"yr":2007,"h":1300},{"yr":2007,"h":1200},
{"yr":2008,"h":2990},{"yr":2008,"h":2850},{"yr":2008,"h":2700},{"yr":2008,"h":2550},{"yr":2008,"h":2400},{"yr":2008,"h":2200},{"yr":2008,"h":2000},{"yr":2008,"h":1760},
{"yr":2009,"h":3040},{"yr":2009,"h":2950},{"yr":2009,"h":2850},{"yr":2009,"h":2750},{"yr":2009,"h":2600},{"yr":2009,"h":2450},{"yr":2009,"h":2250},{"yr":2009,"h":2070},
{"yr":2010,"h":2730},{"yr":2010,"h":2650},{"yr":2010,"h":2550},{"yr":2010,"h":2450},{"yr":2010,"h":2350},{"yr":2010,"h":2200},{"yr":2010,"h":2050},{"yr":2010,"h":1920},
{"yr":2011,"h":2650},{"yr":2011,"h":2550},{"yr":2011,"h":2450},{"yr":2011,"h":2350},{"yr":2011,"h":2250},{"yr":2011,"h":2150},{"yr":2011,"h":2020},{"yr":2011,"h":1610},
{"yr":2012,"h":2430},{"yr":2012,"h":2300},{"yr":2012,"h":2150},{"yr":2012,"h":2000},{"yr":2012,"h":1850},{"yr":2012,"h":1700},{"yr":2012,"h":1510},{"yr":2012,"h":1250},
{"yr":2013,"h":2710},{"yr":2013,"h":2620},{"yr":2013,"h":2530},{"yr":2013,"h":2450},{"yr":2013,"h":2350},{"yr":2013,"h":2250},{"yr":2013,"h":2070},{"yr":2013,"h":1840},
{"yr":2014,"h":2630},{"yr":2014,"h":2450},{"yr":2014,"h":2300},{"yr":2014,"h":2150},{"yr":2014,"h":2000},{"yr":2014,"h":1800},{"yr":2014,"h":1610},{"yr":2014,"h":1360}],
"p2100":[
{"yr":1962,"h":3160},{"yr":1962,"h":3100},{"yr":1962,"h":3050},{"yr":1962,"h":3000},{"yr":1962,"h":2950},{"yr":1962,"h":2900},{"yr":1962,"h":2850},{"yr":1962,"h":2780},
{"yr":1963,"h":3390},{"yr":1963,"h":3340},{"yr":1963,"h":3290},{"yr":1963,"h":3240},{"yr":1963,"h":3190},{"yr":1963,"h":3140},{"yr":1963,"h":3100},{"yr":1963,"h":3080},
{"yr":1964,"h":3260},{"yr":1964,"h":3150},{"yr":1964,"h":3050},{"yr":1964,"h":2950},{"yr":1964,"h":2880},{"yr":1964,"h":2800},{"yr":1964,"h":2750},{"yr":1964,"h":2650},
{"yr":1965,"h":3310},{"yr":1965,"h":3250},{"yr":1965,"h":3180},{"yr":1965,"h":3100},{"yr":1965,"h":3030},{"yr":1965,"h":2950},{"yr":1965,"h":2900},{"yr":1965,"h":2850},
{"yr":1966,"h":2980},{"yr":1966,"h":2900},{"yr":1966,"h":2800},{"yr":1966,"h":2700},{"yr":1966,"h":2620},{"yr":1966,"h":2550},{"yr":1966,"h":2480},{"yr":1966,"h":2440},
{"yr":1967,"h":3490},{"yr":1967,"h":3410},{"yr":1967,"h":3120},{"yr":1967,"h":3080},{"yr":1967,"h":3040},{"yr":1967,"h":3000},{"yr":1967,"h":2950},{"yr":1967,"h":2900},
{"yr":1968,"h":3160},{"yr":1968,"h":3080},{"yr":1968,"h":3000},{"yr":1968,"h":2950},{"yr":1968,"h":2900},{"yr":1968,"h":2850},{"yr":1968,"h":2780},{"yr":1968,"h":2720},
{"yr":1969,"h":2650},{"yr":1969,"h":2550},{"yr":1969,"h":2450},{"yr":1969,"h":2400},{"yr":1969,"h":2350},{"yr":1969,"h":2280},{"yr":1969,"h":2200},{"yr":1969,"h":2140},
{"yr":1970,"h":3360},{"yr":1970,"h":3280},{"yr":1970,"h":3200},{"yr":1970,"h":3120},{"yr":1970,"h":3050},{"yr":1970,"h":2980},{"yr":1970,"h":2920},{"yr":1970,"h":2880},
{"yr":1971,"h":3050},{"yr":1971,"h":2950},{"yr":1971,"h":2850},{"yr":1971,"h":2750},{"yr":1971,"h":2700},{"yr":1971,"h":2600},{"yr":1971,"h":2190},{"yr":1971,"h":1960},
{"yr":1972,"h":4220},{"yr":1972,"h":4150},{"yr":1972,"h":4070},{"yr":1972,"h":3310},{"yr":1972,"h":3150},{"yr":1972,"h":2980},{"yr":1972,"h":2800},{"yr":1972,"h":2650},
{"yr":1973,"h":3230},{"yr":1973,"h":3150},{"yr":1973,"h":3050},{"yr":1973,"h":2980},{"yr":1973,"h":2900},{"yr":1973,"h":2850},{"yr":1973,"h":2780},{"yr":1973,"h":2720},
{"yr":1974,"h":2900},{"yr":1974,"h":2800},{"yr":1974,"h":2700},{"yr":1974,"h":2600},{"yr":1974,"h":2550},{"yr":1974,"h":2480},{"yr":1974,"h":2400},{"yr":1974,"h":2340},
{"yr":1975,"h":3490},{"yr":1975,"h":3400},{"yr":1975,"h":3300},{"yr":1975,"h":3200},{"yr":1975,"h":3150},{"yr":1975,"h":3050},{"yr":1975,"h":3000},{"yr":1975,"h":2950},
{"yr":1976,"h":3840},{"yr":1976,"h":3800},{"yr":1976,"h":3360},{"yr":1976,"h":3200},{"yr":1976,"h":3050},{"yr":1976,"h":2900},{"yr":1976,"h":2750},{"yr":1976,"h":2620},
{"yr":1977,"h":3160},{"yr":1977,"h":3050},{"yr":1977,"h":2950},{"yr":1977,"h":2850},{"yr":1977,"h":2750},{"yr":1977,"h":2650},{"yr":1977,"h":2550},{"yr":1977,"h":2440},
{"yr":1978,"h":3100},{"yr":1978,"h":3000},{"yr":1978,"h":2900},{"yr":1978,"h":2800},{"yr":1978,"h":2700},{"yr":1978,"h":2650},{"yr":1978,"h":2550},{"yr":1978,"h":2490},
{"yr":1979,"h":2750},{"yr":1979,"h":2650},{"yr":1979,"h":2550},{"yr":1979,"h":2480},{"yr":1979,"h":2400},{"yr":1979,"h":2350},{"yr":1979,"h":2250},{"yr":1979,"h":2190},
{"yr":1980,"h":3100},{"yr":1980,"h":3020},{"yr":1980,"h":2950},{"yr":1980,"h":2900},{"yr":1980,"h":2850},{"yr":1980,"h":2800},{"yr":1980,"h":2750},{"yr":1980,"h":2720},
{"yr":1981,"h":3230},{"yr":1981,"h":3150},{"yr":1981,"h":3050},{"yr":1981,"h":2980},{"yr":1981,"h":2900},{"yr":1981,"h":2850},{"yr":1981,"h":2780},{"yr":1981,"h":2720},
{"yr":1982,"h":3310},{"yr":1982,"h":3250},{"yr":1982,"h":3150},{"yr":1982,"h":3080},{"yr":1982,"h":3000},{"yr":1982,"h":2950},{"yr":1982,"h":2900},{"yr":1982,"h":2510},
{"yr":1983,"h":3160},{"yr":1983,"h":3050},{"yr":1983,"h":2950},{"yr":1983,"h":2850},{"yr":1983,"h":2750},{"yr":1983,"h":2600},{"yr":1983,"h":2450},{"yr":1983,"h":2370},
{"yr":1984,"h":3190},{"yr":1984,"h":3100},{"yr":1984,"h":3030},{"yr":1984,"h":2980},{"yr":1984,"h":2900},{"yr":1984,"h":2850},{"yr":1984,"h":2800},{"yr":1984,"h":2750},
{"yr":1985,"h":2880},{"yr":1985,"h":2800},{"yr":1985,"h":2700},{"yr":1985,"h":2600},{"yr":1985,"h":2500},{"yr":1985,"h":2400},{"yr":1985,"h":2350},{"yr":1985,"h":2290},
{"yr":1986,"h":3660},{"yr":1986,"h":3600},{"yr":1986,"h":3510},{"yr":1986,"h":3210},{"yr":1986,"h":3100},{"yr":1986,"h":3000},{"yr":1986,"h":2900},{"yr":1986,"h":2800},
{"yr":1987,"h":3160},{"yr":1987,"h":3050},{"yr":1987,"h":2950},{"yr":1987,"h":2850},{"yr":1987,"h":2780},{"yr":1987,"h":2700},{"yr":1987,"h":2650},{"yr":1987,"h":2580},
{"yr":1988,"h":2800},{"yr":1988,"h":2750},{"yr":1988,"h":2680},{"yr":1988,"h":2600},{"yr":1988,"h":2550},{"yr":1988,"h":2480},{"yr":1988,"h":2400},{"yr":1988,"h":2340},
{"yr":1989,"h":2820},{"yr":1989,"h":2700},{"yr":1989,"h":2600},{"yr":1989,"h":2500},{"yr":1989,"h":2420},{"yr":1989,"h":2350},{"yr":1989,"h":2300},{"yr":1989,"h":2240},
{"yr":1990,"h":2490},{"yr":1990,"h":2400},{"yr":1990,"h":2300},{"yr":1990,"h":2220},{"yr":1990,"h":2150},{"yr":1990,"h":2080},{"yr":1990,"h":2020},{"yr":1990,"h":1960},
{"yr":1991,"h":3020},{"yr":1991,"h":2950},{"yr":1991,"h":2900},{"yr":1991,"h":2850},{"yr":1991,"h":2800},{"yr":1991,"h":2750},{"yr":1991,"h":2700},{"yr":1991,"h":2650},
{"yr":1992,"h":3260},{"yr":1992,"h":3150},{"yr":1992,"h":3050},{"yr":1992,"h":2950},{"yr":1992,"h":2850},{"yr":1992,"h":2750},{"yr":1992,"h":2680},{"yr":1992,"h":2620},
{"yr":1993,"h":2980},{"yr":1993,"h":2900},{"yr":1993,"h":2800},{"yr":1993,"h":2700},{"yr":1993,"h":2600},{"yr":1993,"h":2500},{"yr":1993,"h":2420},{"yr":1993,"h":2340},
{"yr":1994,"h":3330},{"yr":1994,"h":3200},{"yr":1994,"h":3100},{"yr":1994,"h":3000},{"yr":1994,"h":2900},{"yr":1994,"h":2800},{"yr":1994,"h":2700},{"yr":1994,"h":2580},
{"yr":1995,"h":2880},{"yr":1995,"h":2750},{"yr":1995,"h":2600},{"yr":1995,"h":2450},{"yr":1995,"h":2300},{"yr":1995,"h":2150},{"yr":1995,"h":2050},{"yr":1995,"h":1960},
{"yr":1996,"h":3160},{"yr":1996,"h":3080},{"yr":1996,"h":2980},{"yr":1996,"h":2900},{"yr":1996,"h":2800},{"yr":1996,"h":2700},{"yr":1996,"h":2600},{"yr":1996,"h":2540},
{"yr":1997,"h":2880},{"yr":1997,"h":2780},{"yr":1997,"h":2650},{"yr":1997,"h":2500},{"yr":1997,"h":2400},{"yr":1997,"h":2340},{"yr":1997,"h":2190},{"yr":1997,"h":1880},
{"yr":1998,"h":3160},{"yr":1998,"h":3050},{"yr":1998,"h":2950},{"yr":1998,"h":2850},{"yr":1998,"h":2700},{"yr":1998,"h":2540},{"yr":1998,"h":2290},{"yr":1998,"h":2040},
{"yr":1999,"h":3360},{"yr":1999,"h":3250},{"yr":1999,"h":3150},{"yr":1999,"h":3050},{"yr":1999,"h":2900},{"yr":1999,"h":2750},{"yr":1999,"h":2600},{"yr":1999,"h":2490},
{"yr":2000,"h":3100},{"yr":2000,"h":3000},{"yr":2000,"h":2900},{"yr":2000,"h":2800},{"yr":2000,"h":2700},{"yr":2000,"h":2600},{"yr":2000,"h":2500},{"yr":2000,"h":2440},
{"yr":2001,"h":2880},{"yr":2001,"h":2780},{"yr":2001,"h":2680},{"yr":2001,"h":2600},{"yr":2001,"h":2500},{"yr":2001,"h":2420},{"yr":2001,"h":2350},{"yr":2001,"h":2270},
{"yr":2002,"h":2750},{"yr":2002,"h":2650},{"yr":2002,"h":2580},{"yr":2002,"h":2500},{"yr":2002,"h":2420},{"yr":2002,"h":2350},{"yr":2002,"h":2250},{"yr":2002,"h":2190},
{"yr":2003,"h":3190},{"yr":2003,"h":3080},{"yr":2003,"h":2950},{"yr":2003,"h":2800},{"yr":2003,"h":2650},{"yr":2003,"h":2540},{"yr":2003,"h":2340},{"yr":2003,"h":2090},
{"yr":2004,"h":3230},{"yr":2004,"h":3100},{"yr":2004,"h":3000},{"yr":2004,"h":2900},{"yr":2004,"h":2800},{"yr":2004,"h":2650},{"yr":2004,"h":2550},{"yr":2004,"h":2440},
{"yr":2005,"h":3190},{"yr":2005,"h":3100},{"yr":2005,"h":3000},{"yr":2005,"h":2900},{"yr":2005,"h":2800},{"yr":2005,"h":2700},{"yr":2005,"h":2650},{"yr":2005,"h":2580},
{"yr":2006,"h":3160},{"yr":2006,"h":3100},{"yr":2006,"h":3050},{"yr":2006,"h":2980},{"yr":2006,"h":2900},{"yr":2006,"h":2850},{"yr":2006,"h":2800},{"yr":2006,"h":2750},
{"yr":2007,"h":2490},{"yr":2007,"h":2350},{"yr":2007,"h":2200},{"yr":2007,"h":2050},{"yr":2007,"h":1950},{"yr":2007,"h":1850},{"yr":2007,"h":1750},{"yr":2007,"h":1680},
{"yr":2008,"h":3490},{"yr":2008,"h":3350},{"yr":2008,"h":3200},{"yr":2008,"h":3050},{"yr":2008,"h":2900},{"yr":2008,"h":2750},{"yr":2008,"h":2550},{"yr":2008,"h":2390},
{"yr":2009,"h":3410},{"yr":2009,"h":3300},{"yr":2009,"h":3200},{"yr":2009,"h":3100},{"yr":2009,"h":3000},{"yr":2009,"h":2900},{"yr":2009,"h":2800},{"yr":2009,"h":2750},
{"yr":2010,"h":3160},{"yr":2010,"h":3080},{"yr":2010,"h":3000},{"yr":2010,"h":2900},{"yr":2010,"h":2820},{"yr":2010,"h":2750},{"yr":2010,"h":2700},{"yr":2010,"h":2650},
{"yr":2011,"h":3210},{"yr":2011,"h":3100},{"yr":2011,"h":3000},{"yr":2011,"h":2900},{"yr":2011,"h":2800},{"yr":2011,"h":2700},{"yr":2011,"h":2600},{"yr":2011,"h":2490},
{"yr":2012,"h":3000},{"yr":2012,"h":2850},{"yr":2012,"h":2700},{"yr":2012,"h":2600},{"yr":2012,"h":2500},{"yr":2012,"h":2400},{"yr":2012,"h":2340},{"yr":2012,"h":1980},
{"yr":2013,"h":3160},{"yr":2013,"h":3080},{"yr":2013,"h":2980},{"yr":2013,"h":2900},{"yr":2013,"h":2800},{"yr":2013,"h":2700},{"yr":2013,"h":2600},{"yr":2013,"h":2540},
{"yr":2014,"h":3080},{"yr":2014,"h":2950},{"yr":2014,"h":2800},{"yr":2014,"h":2650},{"yr":2014,"h":2550},{"yr":2014,"h":2450},{"yr":2014,"h":2350},{"yr":2014,"h":2290}]
},
"vconcat":[
{"width":626,"height":163.5,
"encoding":{"x":{"field":"yr","type":"quantitative","scale":{"domain":[1960,2014.4],"nice":false,"zero":false},"axis":{"values":[1960,1970,1980,1990,2000,2010],"labels":false,"ticks":false,"domain":false,"title":null,"grid":true}},
"y":{"field":"h","type":"quantitative","scale":{"domain":[0,5000],"nice":false},"axis":{"values":[1000,2000,3000,4000,5000],"format":"d","title":"Hours"}}},
"layer":[
{"data":{"name":"p1200"},"mark":{"type":"circle","size":26,"color":"#0000e6","opacity":1}},
{"data":{"name":"m1200"},"transform":[{"regression":"h","on":"yr"}],"mark":{"type":"line","strokeWidth":1.2},"encoding":{"color":{"datum":"Linear trend","type":"nominal","scale":{"domain":["Alt. 1200 m.a.s.l. Average","Linear trend"],"range":["#222222","#3030ff"]},"legend":{"title":null,"orient":"top-left"}}}},
{"data":{"name":"m1200"},"mark":{"type":"line","strokeWidth":1},"encoding":{"color":{"datum":"Alt. 1200 m.a.s.l. Average","type":"nominal"}}}
]},
{"width":626,"height":163.5,
"encoding":{"x":{"field":"yr","type":"quantitative","scale":{"domain":[1960,2014.4],"nice":false,"zero":false},"axis":{"values":[1960,1970,1980,1990,2000,2010],"labels":false,"ticks":false,"domain":false,"title":null,"grid":true}},
"y":{"field":"h","type":"quantitative","scale":{"domain":[0,5000],"nice":false},"axis":{"values":[1000,2000,3000,4000,5000],"format":"d","title":"Hours"}}},
"layer":[
{"data":{"name":"p1500"},"mark":{"type":"circle","size":26,"color":"#dd0000","opacity":1}},
{"data":{"name":"m1500"},"transform":[{"regression":"h","on":"yr"}],"mark":{"type":"line","strokeWidth":1.2},"encoding":{"color":{"datum":"Linear trend","type":"nominal","scale":{"domain":["Alt. 1500 m.a.s.l. Average","Linear trend"],"range":["#222222","#ff3030"]},"legend":{"title":null,"orient":"top-left"}}}},
{"data":{"name":"m1500"},"mark":{"type":"line","strokeWidth":1},"encoding":{"color":{"datum":"Alt. 1500 m.a.s.l. Average","type":"nominal"}}}
]},
{"width":626,"height":163.5,
"encoding":{"x":{"field":"yr","type":"quantitative","scale":{"domain":[1960,2014.4],"nice":false,"zero":false},"axis":{"values":[1960,1970,1980,1990,2000,2010],"labels":false,"ticks":false,"domain":false,"title":null,"grid":true}},
"y":{"field":"h","type":"quantitative","scale":{"domain":[0,5000],"nice":false},"axis":{"values":[1000,2000,3000,4000,5000],"format":"d","title":"Hours"}}},
"layer":[
{"data":{"name":"p1800"},"mark":{"type":"circle","size":26,"color":"#0a6e0a","opacity":1}},
{"data":{"name":"m1800"},"transform":[{"regression":"h","on":"yr"}],"mark":{"type":"line","strokeWidth":1.2},"encoding":{"color":{"datum":"Linear trend","type":"nominal","scale":{"domain":["Alt. 1800 m.a.s.l. Average","Linear trend"],"range":["#222222","#45a845"]},"legend":{"title":null,"orient":"top-left"}}}},
{"data":{"name":"m1800"},"mark":{"type":"line","strokeWidth":1},"encoding":{"color":{"datum":"Alt. 1800 m.a.s.l. Average","type":"nominal"}}}
]},
{"width":626,"height":163.5,
"encoding":{"x":{"field":"yr","type":"quantitative","scale":{"domain":[1960,2014.4],"nice":false,"zero":false},"axis":{"values":[1960,1970,1980,1990,2000,2010],"format":"d","labelAngle":-45,"labelAlign":"center","labelBaseline":"middle","labelPadding":15,"ticks":false,"domain":false,"title":"Year","titlePadding":0,"grid":true}},
"y":{"field":"h","type":"quantitative","scale":{"domain":[0,5000],"nice":false},"axis":{"values":[0,1000,2000,3000,4000,5000],"format":"d","title":"Hours"}}},
"layer":[
{"data":{"name":"p2100"},"mark":{"type":"circle","size":26,"color":"#aa00aa","opacity":1}},
{"data":{"name":"m2100"},"transform":[{"regression":"h","on":"yr"}],"mark":{"type":"line","strokeWidth":1.2},"encoding":{"color":{"datum":"Linear trend","type":"nominal","scale":{"domain":["Alt. 2100 m.a.s.l. Average","Linear trend"],"range":["#222222","#c030c0"]},"legend":{"title":null,"orient":"bottom-left"}}}},
{"data":{"name":"m2100"},"mark":{"type":"line","strokeWidth":1},"encoding":{"color":{"datum":"Alt. 2100 m.a.s.l. Average","type":"nominal"}}}
]}
],
"spacing":0,
"bounds":"flush",
"resolve":{"scale":{"color":"independent","x":"independent","y":"independent"},"legend":{"color":"independent"},"axis":{"x":"independent","y":"independent"}},
"config":{
"font":"DejaVu Sans",
"view":{"stroke":"#999999","strokeWidth":1.5},
"axis":{"gridColor":"#dddddd","gridWidth":1,"labelColor":"#000000","titleColor":"#000000","labelFont":"DejaVu Sans","titleFont":"DejaVu Sans","labelFontSize":14,"titleFontSize":15,"labelFlush":false,"labelOverlap":false,"labelBound":false},
"axisY":{"titleFontWeight":"bold","titlePadding":3,"labelPadding":2,"ticks":false,"domain":false},
"axisX":{"titleFontWeight":"normal"},
"legend":{"direction":"horizontal","symbolType":"stroke","symbolSize":361,"symbolStrokeWidth":1.2,"labelFontSize":12.5,"labelFont":"DejaVu Sans","labelColor":"#000000","labelLimit":400,"fillColor":"#ffffff","strokeColor":"#999999","padding":4,"offset":5,"columnPadding":14,"labelOffset":13,"symbolOffset":5,"cornerRadius":0}
}
}
